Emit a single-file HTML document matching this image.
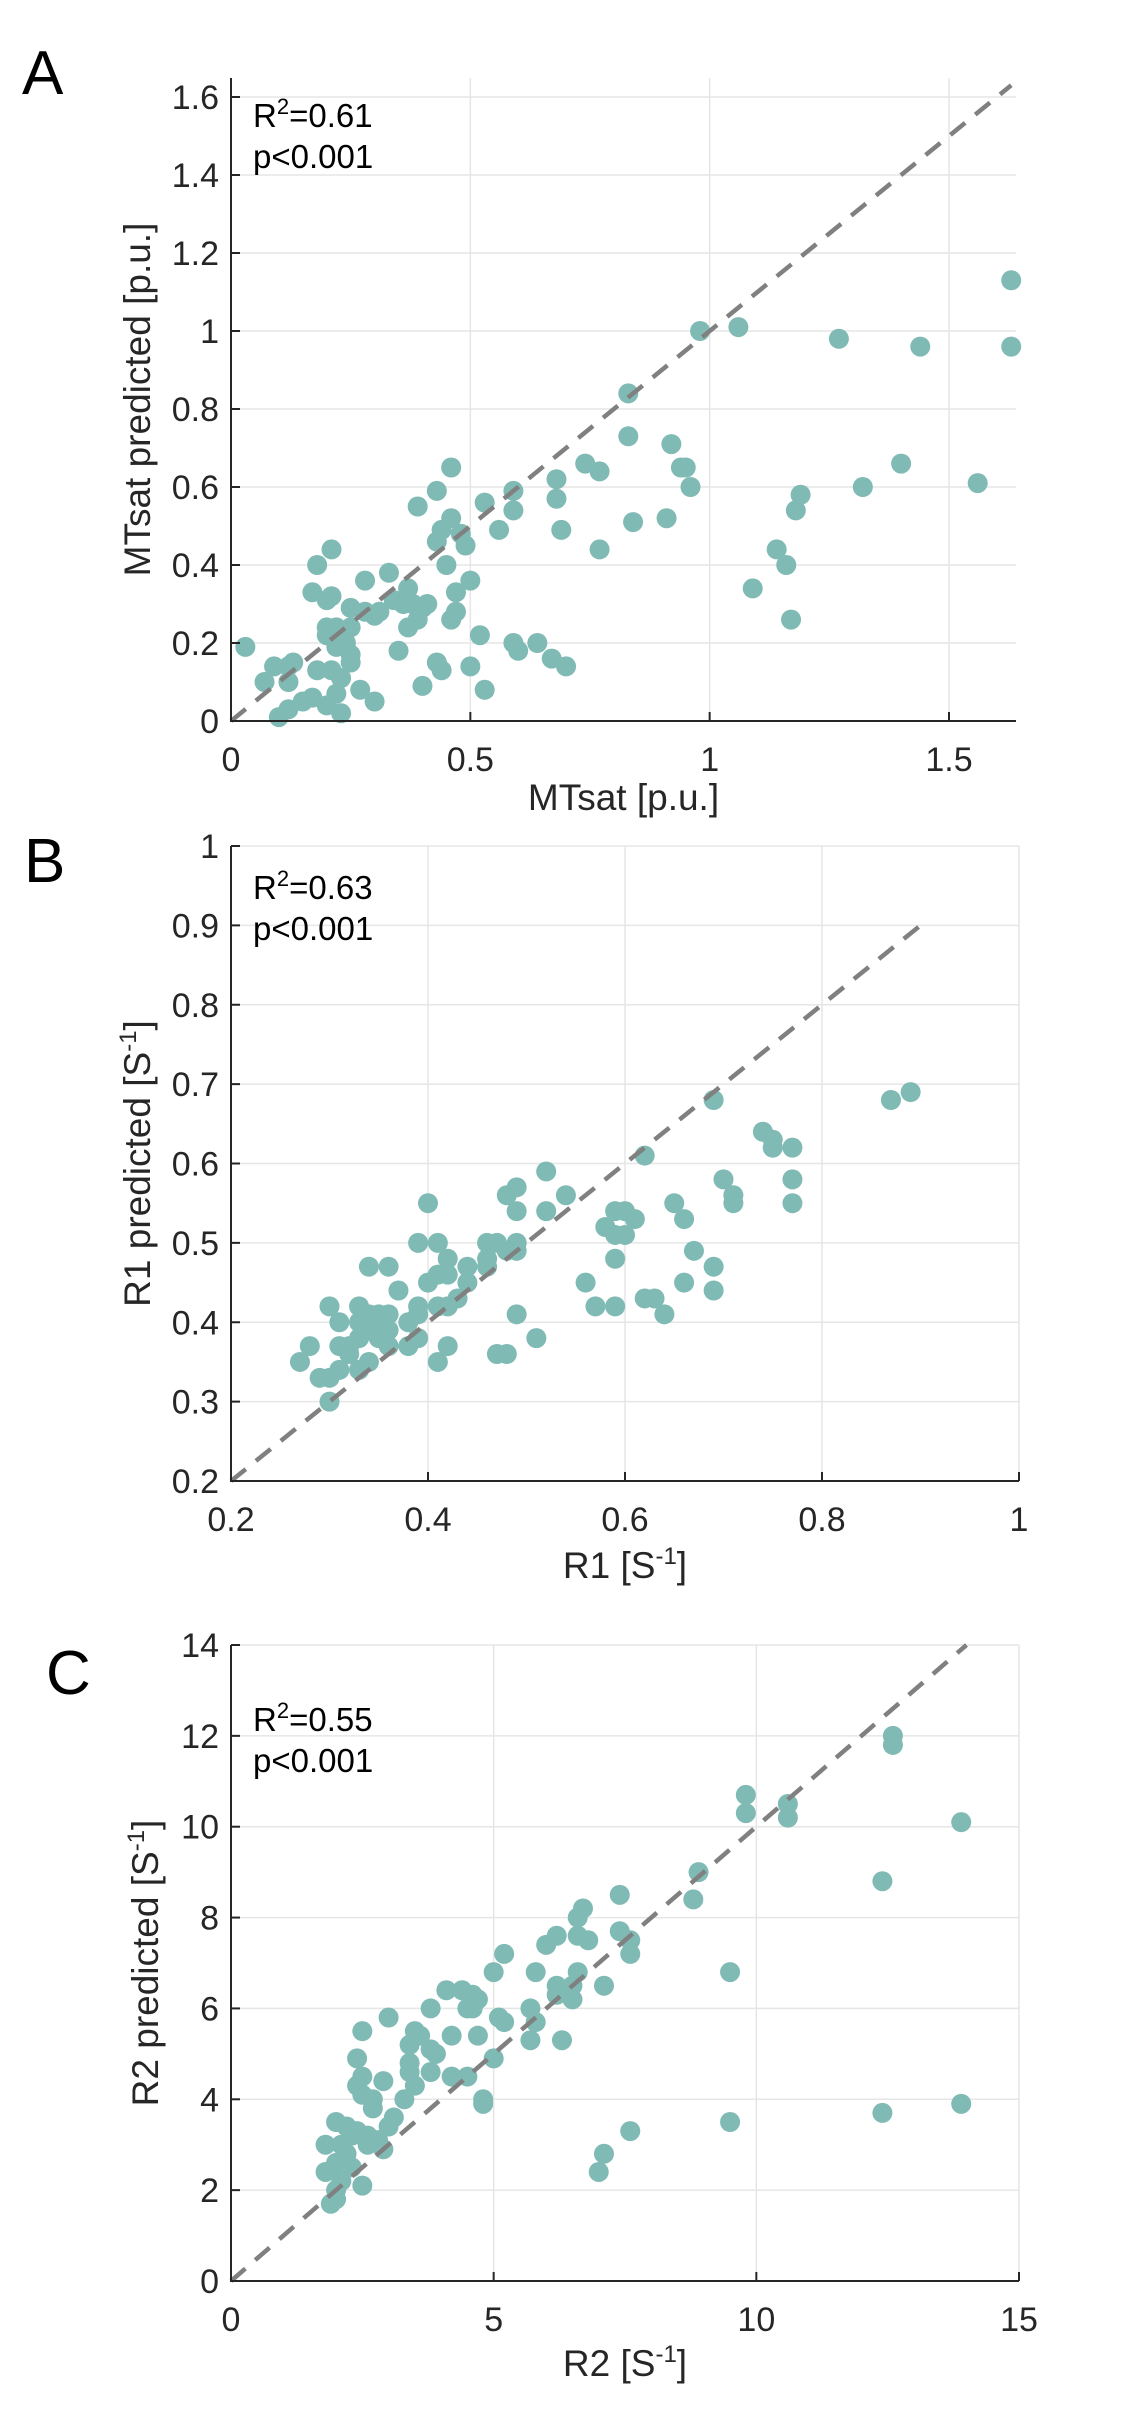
<!DOCTYPE html>
<html><head><meta charset="utf-8"><style>
html,body{margin:0;padding:0;background:#fff;}
svg{display:block;font-family:"Liberation Sans","DejaVu Sans",sans-serif;}
</style></head><body>
<svg id="fig" width="1144" height="2423" viewBox="0 0 1144 2423" xmlns="http://www.w3.org/2000/svg"></svg>
<script>
const mtsatX=[0.03,0.1,0.09,0.13,0.12,0.07,0.12,0.12,0.15,0.17,0.2,0.22,0.23,0.18,0.21,0.23,0.17,0.18,0.21,0.2,0.21,0.2,0.22,0.2,0.22,0.24,0.25,0.25,0.27,0.3,0.25,0.25,0.28,0.28,0.3,0.31,0.33,0.34,0.35,0.36,0.37,0.37,0.38,0.39,0.4,0.41,0.39,0.4,0.43,0.44,0.43,0.43,0.44,0.45,0.46,0.46,0.46,0.47,0.47,0.48,0.49,0.5,0.5,0.52,0.53,0.53,0.56,0.59,0.59,0.59,0.6,0.64,0.67,0.7,0.68,0.68,0.69,0.74,0.77,0.77,0.83,0.83,0.84,0.91,0.92,0.94,0.95,0.96,0.98,1.06,1.09,1.14,1.16,1.17,1.18,1.19,1.27,1.32,1.4,1.44,1.56,1.63,1.63];
const mtsatY=[0.19,0.01,0.14,0.15,0.14,0.1,0.1,0.03,0.05,0.06,0.04,0.07,0.02,0.13,0.13,0.11,0.33,0.4,0.44,0.31,0.32,0.24,0.24,0.22,0.19,0.2,0.17,0.15,0.08,0.05,0.24,0.29,0.28,0.36,0.27,0.28,0.38,0.31,0.18,0.3,0.24,0.34,0.3,0.26,0.29,0.3,0.55,0.09,0.15,0.13,0.46,0.59,0.49,0.4,0.65,0.52,0.26,0.28,0.33,0.48,0.45,0.36,0.14,0.22,0.08,0.56,0.49,0.54,0.59,0.2,0.18,0.2,0.16,0.14,0.62,0.57,0.49,0.66,0.64,0.44,0.84,0.73,0.51,0.52,0.71,0.65,0.65,0.6,1.0,1.01,0.34,0.44,0.4,0.26,0.54,0.58,0.98,0.6,0.66,0.96,0.61,1.13,0.96];
const r1X=[0.27,0.28,0.29,0.3,0.3,0.3,0.31,0.31,0.31,0.32,0.32,0.33,0.33,0.33,0.33,0.34,0.34,0.34,0.34,0.35,0.35,0.35,0.36,0.36,0.36,0.36,0.37,0.38,0.38,0.39,0.39,0.39,0.39,0.4,0.4,0.41,0.41,0.41,0.41,0.42,0.42,0.42,0.42,0.43,0.44,0.44,0.46,0.46,0.46,0.47,0.47,0.48,0.48,0.48,0.49,0.49,0.49,0.49,0.49,0.51,0.52,0.52,0.54,0.56,0.57,0.58,0.59,0.59,0.59,0.59,0.6,0.6,0.61,0.62,0.62,0.63,0.64,0.65,0.66,0.66,0.67,0.69,0.69,0.69,0.7,0.71,0.71,0.74,0.75,0.75,0.77,0.77,0.77,0.87,0.89];
const r1Y=[0.35,0.37,0.33,0.3,0.42,0.33,0.34,0.4,0.37,0.37,0.36,0.42,0.4,0.38,0.34,0.39,0.35,0.41,0.47,0.4,0.38,0.41,0.39,0.37,0.41,0.47,0.44,0.37,0.4,0.42,0.38,0.5,0.41,0.45,0.55,0.5,0.46,0.35,0.42,0.46,0.42,0.37,0.48,0.43,0.47,0.45,0.47,0.5,0.48,0.36,0.5,0.49,0.36,0.56,0.57,0.54,0.41,0.49,0.5,0.38,0.59,0.54,0.56,0.45,0.42,0.52,0.54,0.42,0.48,0.51,0.54,0.51,0.53,0.61,0.43,0.43,0.41,0.55,0.53,0.45,0.49,0.44,0.47,0.68,0.58,0.55,0.56,0.64,0.62,0.63,0.58,0.62,0.55,0.68,0.69];
const r2X=[1.8,1.8,1.9,2.0,2.0,2.0,2.0,2.1,2.1,2.2,2.2,2.3,2.3,2.4,2.4,2.4,2.5,2.5,2.5,2.5,2.6,2.6,2.7,2.7,2.8,2.9,2.9,3.0,3.0,3.1,3.3,3.4,3.4,3.4,3.5,3.5,3.6,3.8,3.8,3.8,3.9,4.1,4.2,4.2,4.4,4.5,4.5,4.6,4.6,4.7,4.7,4.8,4.8,5.0,5.0,5.1,5.2,5.2,5.7,5.7,5.8,5.8,6.0,6.2,6.2,6.2,6.3,6.5,6.5,6.6,6.6,6.6,6.7,6.8,7.1,7.0,7.1,7.4,7.4,7.6,7.6,7.6,8.8,8.9,9.5,9.5,9.8,9.8,10.6,10.6,12.4,12.4,12.6,12.6,13.9,13.9];
const r2Y=[3.0,2.4,1.7,3.5,2.0,1.8,2.6,3.0,2.2,3.4,2.8,3.2,2.5,4.3,4.9,3.3,5.5,4.5,2.1,4.1,3.2,3.0,3.8,4.0,3.1,4.4,2.9,3.4,5.8,3.6,4.0,4.8,4.6,5.2,5.5,4.3,5.4,4.6,5.1,6.0,5.0,6.4,5.4,4.5,6.4,6.0,4.5,6.3,6.0,6.2,5.4,4.0,3.9,6.8,4.9,5.8,5.7,7.2,6.0,5.3,5.7,6.8,7.4,6.5,6.3,7.6,5.3,6.2,6.5,7.6,8.0,6.8,8.2,7.5,6.5,2.4,2.8,8.5,7.7,7.5,7.2,3.3,8.4,9.0,6.8,3.5,10.7,10.3,10.5,10.2,8.8,3.7,12.0,11.8,10.1,3.9];
const aXTicks=[0,0.5,1,1.5], aXTickLabels=["0","0.5","1","1.5"];
const aYTicks=[0,0.2,0.4,0.6,0.8,1,1.2,1.4,1.6], aYTickLabels=["0","0.2","0.4","0.6","0.8","1","1.2","1.4","1.6"];
const bTicks=[0.2,0.4,0.6,0.8,1], bXTickLabels=["0.2","0.4","0.6","0.8","1"];
const bYTicks=[0.2,0.3,0.4,0.5,0.6,0.7,0.8,0.9,1], bYTickLabels=["0.2","0.3","0.4","0.5","0.6","0.7","0.8","0.9","1"];
const cXTicks=[0,5,10,15], cXTickLabels=["0","5","10","15"];
const cYTicks=[0,2,4,6,8,10,12,14], cYTickLabels=["0","2","4","6","8","10","12","14"];
const rSquared=["0.61","0.63","0.55"];

const NS="http://www.w3.org/2000/svg";
const svg=document.getElementById('fig');
function mk(tag,attrs,parent){const e=document.createElementNS(NS,tag);for(const k in attrs)e.setAttribute(k,attrs[k]);(parent||svg).appendChild(e);return e;}

function panel(o){
  const g=mk('g',{});
  
  
  const sx=v=>o.L+(v-o.x0)/(o.x1-o.x0)*(o.R-o.L);
  const sy=v=>o.B-(v-o.y0)/(o.y1-o.y0)*(o.B-o.T);
  o.xt.forEach(v=>{const l=mk('line',{x1:sx(v),x2:sx(v),y1:o.top,y2:o.B,stroke:'#e6e6e6','stroke-width':1.5},g);});
  o.yt.forEach(v=>{const l=mk('line',{x1:o.L,x2:o.right,y1:sy(v),y2:sy(v),stroke:'#e6e6e6','stroke-width':1.5},g);});
  o.xs.forEach((v,i)=>{const c=mk('circle',{cx:sx(v),cy:sy(o.ys[i]),r:10,fill:'#80bab4'},g);});
  const d=mk('line',{x1:sx(o.d0),y1:sy(o.d0),x2:sx(o.d1),y2:sy(o.d1),stroke:'#808080','stroke-width':4.5,'stroke-dasharray':'19 13'},g);
  
  const ax=mk('path',{d:`M${o.L},${o.top}V${o.B}H${o.right}`,fill:'none',stroke:'#262626','stroke-width':2},g);
  
  o.xt.forEach((v,i)=>{mk('line',{x1:sx(v),x2:sx(v),y1:o.B,y2:o.B-9,stroke:'#262626','stroke-width':2},g);
    const t=mk('text',{x:sx(v),y:o.B+50,'text-anchor':'middle','font-size':34,fill:'#262626'},g);t.textContent=o.xl[i];});
  o.yt.forEach((v,i)=>{mk('line',{x1:o.L,x2:o.L+9,y1:sy(v),y2:sy(v),stroke:'#262626','stroke-width':2},g);
    const t=mk('text',{x:o.L-12,y:sy(v)+12,'text-anchor':'end','font-size':34,fill:'#262626'},g);t.textContent=o.yl[i];});
  const xl=mk('text',{x:(o.L+o.right)/2,y:o.xly,'text-anchor':'middle','font-size':37,fill:'#262626'},g);xl.innerHTML=o.xlabel;
  
  const yl=mk('text',{transform:`translate(${o.ylx},${(o.top+o.B)/2}) rotate(-90)`,'text-anchor':'middle','font-size':37,fill:'#262626'},g);yl.innerHTML=o.ylabel;
  
  const a1=mk('text',{x:o.L+22,y:o.ay,'font-size':33,fill:'#000'},g);a1.innerHTML='R<tspan dy="-13" font-size="22">2</tspan><tspan dy="13">=</tspan>'+o.r2;
  
  const a2=mk('text',{x:o.L+22,y:o.ay+41,'font-size':33,fill:'#000'},g);a2.textContent='p<0.001';
  
  const lt=mk('text',{x:o.lx,y:o.ly,'font-size':62,fill:'#000'},g);lt.textContent=o.id;
  
}
const S1='[S<tspan dy="-14" font-size="24">-1</tspan><tspan dy="14">]</tspan>';
panel({id:'A',L:231,R:1016,right:1016,top:78,B:721,T:97,x0:0,x1:1.64,y0:0,y1:1.6,xs:mtsatX,ys:mtsatY,xt:aXTicks,xl:aXTickLabels,yt:aYTicks,yl:aYTickLabels,d0:0,d1:1.63,xlabel:'MTsat [p.u.]',ylabel:'MTsat predicted [p.u.]',xly:810,ylx:150,ay:127,r2:rSquared[0],lx:22,ly:94});
panel({id:'B',L:231,R:1019,right:1019,top:846,B:1481,T:846,x0:0.2,x1:1,y0:0.2,y1:1,xs:r1X,ys:r1Y,xt:bTicks,xl:bXTickLabels,yt:bYTicks,yl:bYTickLabels,d0:0.2,d1:0.9,xlabel:'R1 '+S1,ylabel:'R1 predicted '+S1,xly:1578,ylx:150,ay:899,r2:rSquared[1],lx:24,ly:882});
panel({id:'C',L:231,R:1019,right:1019,top:1645,B:2281,T:1645,x0:0,x1:15,y0:0,y1:14,xs:r2X,ys:r2Y,xt:cXTicks,xl:cXTickLabels,yt:cYTicks,yl:cYTickLabels,d0:0,d1:14,xlabel:'R2 '+S1,ylabel:'R2 predicted '+S1,xly:2376,ylx:158,ay:1731,r2:rSquared[2],lx:46,ly:1694});
</script>
</body></html>
